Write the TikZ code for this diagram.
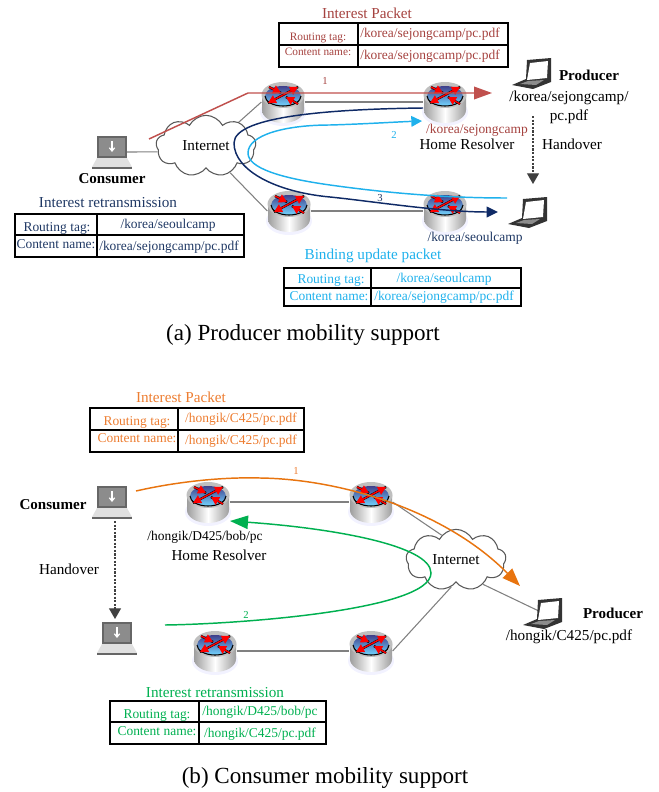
\documentclass[tikz,border=0pt]{standalone}
\usepackage{fontspec}
\setmainfont{Liberation Serif}
\usetikzlibrary{arrows.meta,shapes.symbols}
\definecolor{pktred}{HTML}{A5423F}
\definecolor{linered}{HTML}{C0504D}
\definecolor{pktnavy}{HTML}{1F3864}
\definecolor{linenavy}{HTML}{0F2A66}
\definecolor{pktcyan}{HTML}{1FB1EC}
\definecolor{pktorange}{HTML}{ED7D31}
\definecolor{lineorange}{HTML}{E8740F}
\definecolor{pktgreen}{HTML}{00B050}
\tikzset{
	txt/.style={inner sep=0pt,font=\fontsize{10.1}{12}\selectfont},
	txtbig/.style={inner sep=0pt,font=\fontsize{11.4}{13}\selectfont},
	txtsmall/.style={inner sep=0pt,font=\fontsize{8.5}{10}\selectfont},
	txtbold/.style={inner sep=0pt,font=\fontsize{11.3}{13}\selectfont\bfseries},
	num/.style={inner sep=0pt,font=\fontsize{8}{10}\selectfont},
	caption/.style={inner sep=0pt,font=\fontsize{17.3}{20}\selectfont},
	hub/.style={minimum width=32pt,minimum height=30pt,inner sep=0pt},
	lap/.style={minimum width=30pt,minimum height=23pt,inner sep=0pt},
	inet/.style={cloud,cloud puffs=9,cloud puff arc=125,aspect=1.6,draw=black!65,line width=.8pt,fill=white,minimum width=75pt,minimum height=46pt,inner sep=0pt,font=\fontsize{11.4}{13}\selectfont},
	link/.style={draw=black!50,line width=.8pt},
	tbl/.style={black,line width=.9pt},
	move/.style={black!75,line width=.8pt,dash pattern=on 1.6pt off 1.1pt,-{Triangle[length=8pt,width=9pt]}},
	pics/router/.style={code={
		\fill[blue!5] (0,10) ellipse (23 and 14);
		\shade[left color=black!38,right color=black!38,middle color=white] (-21,-7) -- (-21,8) arc (180:0:21 and 13) -- (21,-7) -- cycle;
		\fill[black!25] (0,-7) ellipse (21.5 and 13);
		\shade[top color=blue!40!black!75,bottom color=blue!30!cyan!55] (0,-6) ellipse (18 and 10);
		\draw[black,line width=.8pt] (-18,-6) arc (180:0:18 and 10);
		\foreach \xa/\ya/\xb/\yb in {0/-7/15/-15, 0/-7/-15/1, -14/-15/-2/-9, 15/2/3/-5}{
			\draw[black,line width=1.7pt] (\xa,\ya) -- (\xb,\yb);
			\draw[red,line width=1.1pt,-{Triangle[length=6pt,width=6.5pt]}] (\xa,\ya) -- (\xb,\yb);
		}
	}},
	pics/graylaptop/.style={code={
		\fill[black!60] (-15,-16) rectangle (15,6);
		\fill[black!45] (-13,-14) rectangle (13,4);
		\fill[black!12] (-15,6) -- (15,6) -- (20,15) -- (-20,15) -- cycle;
		\draw[black!60,line width=.8pt] (-20,16) -- (20,16);
		\draw[white,line width=.9pt,-{Straight Barb[length=2.5pt,width=4pt]}] (0,-11) -- (0,0);
	}},
	pics/blacklaptop/.style={code={
		\fill[black!80] (-5,-13) -- (19,-15) -- (19,9) -- (1,16) -- (-20,12) -- (-6,6) -- cycle;
		\fill[white] (-2,-10) -- (16,-12) -- (15,5) -- (-5,7) -- cycle;
		\fill[black!45] (-12,11) -- (-4,8) -- (12,7) -- (4,12) -- cycle;
	}}
}
\begin{document}
\begin{tikzpicture}[x=.75pt,y=-.75pt]
	\useasboundingbox (0,0) rectangle (658,792);
	% routers and laptops as named places
	\foreach \name/\px/\py in {ra/283/102,rb/445/102,rc/289/211,rd/445/211,re/208/502,rf/371/502,rg/215/651,rh/371/651}
		\node[hub] (\name) at (\px,\py) {};
	\node[lap] (cona) at (112,152) {};
	\node[lap] (conb) at (112,502) {};
	\node[lap] (conc) at (117,638) {};
	\node[lap] (proa) at (532,73) {};
	\node[lap] (prob) at (528,212) {};
	\node[lap] (proc) at (543,613) {};
	\node[inet] (inta) at (206,146) {Internet};
	\node[inet] (intb) at (456,560) {Internet};
	% wires
	\draw[link] (cona.center) -- (inta.187);
	\draw[link] (ra.west) -- (inta.36);
	\draw[link] (rc.west) -- (inta.-48);
	\draw[link] (ra) -- (rb);
	\draw[link] (rc) -- (rd);
	\draw[link] (re) -- (rf);
	\draw[link] (rg) -- (rh);
	\draw[link] (rf.east) -- (intb.120);
	\draw[link] (rh.east) -- (intb.-100);
	\draw[link] (proc.center) -- (intb.-42);
	\foreach \name in {ra,rb,rc,rd,re,rf,rg,rh}
		\pic at (\name) {router};
	\foreach \name in {cona,conb,conc}
		\pic at (\name) {graylaptop};
	\foreach \name in {proa,prob,proc}
		\pic at (\name) {blacklaptop};
	% packet paths
	\coordinate (reds) at (149,139);
	\coordinate (rede) at (492,93);
	\coordinate (navs) at (423,108);
	\coordinate (nave) at (498,212);
	\coordinate (cyas) at (507,198);
	\coordinate (cyae) at (422,121);
	\coordinate (orgs) at (136,491);
	\coordinate (orge) at (520,586);
	\coordinate (gres) at (165,625);
	\coordinate (gree) at (230,521);
	\draw[linered,line width=1.1pt,-{Triangle[length=13.5pt,width=9.5pt]}] (reds) -- (248,93) -- (rede);
	\draw[linenavy,line width=1.1pt,-{Triangle[length=8.5pt,width=8pt]}] (navs) .. controls (340,109) and (234,115) .. (234,143) .. controls (234,170) and (275,192) .. (330,197) .. controls (370,201) and (440,212) .. (nave);
	\draw[pktcyan,line width=1.1pt,-{Triangle[length=8pt,width=8pt]}] (cyas) .. controls (440,198) and (380,192) .. (330,185) .. controls (280,178) and (248,168) .. (248,153) .. controls (248,135) and (285,125) .. (330,125) .. controls (365,124) and (395,122) .. (cyae);
	\draw[lineorange,line width=1.1pt,-{Triangle[length=13.5pt,width=10pt]}] (orgs) .. controls (180,481) and (225,477) .. (260,478) .. controls (340,479) and (445,510) .. (orge);
	\draw[pktgreen,line width=1.1pt,-{Triangle[length=13.5pt,width=10pt]}] (gres) .. controls (240,624) and (431,610) .. (431,573) .. controls (431,545) and (330,528) .. (gree);
	\coordinate (hoas) at (533,116);
	\coordinate (hoae) at (533,184);
	\coordinate (hobs) at (115,521);
	\coordinate (hobe) at (115,619);
	\draw[move] (hoas) -- (hoae);
	\draw[move] (hobs) -- (hobe);
	% packet tables
	\foreach \xa/\ya/\xb/\yb/\xm/\ym in {279/23/508/67/358/45, 15/214/244/257/97/235, 284/268/521/306/371/288, 90/408/304/452/178/430, 110/701/326/744/199/722}{
		\draw[tbl] (\xa,\ya) rectangle (\xb,\yb);
		\draw[tbl] (\xa,\ym) -- (\xb,\ym);
		\draw[tbl] (\xm,\ya) -- (\xm,\yb);
	}
	% (a) labels
	\node[txtbig,pktred] (ta) at (367,13) {Interest Packet};
	\node[txtsmall,pktred] (tb) at (318,38) {Routing tag:};
	\node[txtsmall,pktred] (tc) at (318,52) {Content name:};
	\node[txt,pktred] (td) at (430,34) {/korea/sejongcamp/pc.pdf};
	\node[txt,pktred] (te) at (430,56) {/korea/sejongcamp/pc.pdf};
	\node[num,pktred] (tf) at (325,81) {1};
	\node[txtbold] (tg) at (112,179) {Consumer};
	\node[txtbig,pktnavy] (th) at (108,203) {Interest retransmission};
	\node[txt,pktnavy] (ti) at (57,228) {Routing tag:};
	\node[txt,pktnavy] (tj) at (56,244) {Content name:};
	\node[txt,pktnavy] (tk) at (168,225) {/korea/seoulcamp};
	\node[txt,pktnavy] (tl) at (169,247) {/korea/sejongcamp/pc.pdf};
	\node[txt,pktred] (tm) at (477,130) {/korea/sejongcamp};
	\node[txtbig] (tn) at (467,144) {Home Resolver};
	\node[num,pktcyan] (to) at (394,135) {2};
	\node[num,pktnavy] (tp) at (380,198) {3};
	\node[txtbold] (tq) at (589,75) {Producer};
	\node[txtbig] (tr) at (569,98) {/korea/sejongcamp/};
	\node[txtbig] (ts) at (569,117) {pc.pdf};
	\node[txtbig] (tt) at (572,144) {Handover};
	\node[txt,pktnavy] (tu) at (475,238) {/korea/seoulcamp};
	\node[txtbig,pktcyan] (tv) at (373,256) {Binding update packet};
	\node[txt,pktcyan] (tw) at (331,280) {Routing tag:};
	\node[txt,pktcyan] (tx) at (329,296) {Content name:};
	\node[txt,pktcyan] (ty) at (444,279) {/korea/seoulcamp};
	\node[txt,pktcyan] (tz) at (444,297) {/korea/sejongcamp/pc.pdf};
	\node[caption] (capa) at (303,335) {(a) Producer mobility support};
	% (b) labels
	\node[txtbig,pktorange] (ua) at (181,397) {Interest Packet};
	\node[txt,pktorange] (ub) at (137,422) {Routing tag:};
	\node[txt,pktorange] (uc) at (137,438) {Content name:};
	\node[txt,pktorange] (ud) at (241,419) {/hongik/C425/pc.pdf};
	\node[txt,pktorange] (ue) at (241,441) {/hongik/C425/pc.pdf};
	\node[num,pktorange] (uf) at (296,471) {1};
	\node[txtbold] (ug) at (53,505) {Consumer};
	\node[txtbig] (uh) at (69,569) {Handover};
	\node[num,pktgreen] (ui) at (246,615) {2};
	\node[txt] (uj) at (205,537) {/hongik/D425/bob/pc};
	\node[txtbig] (uk) at (219,555) {Home Resolver};
	\node[txtbold] (ul) at (613,613) {Producer};
	\node[txtbig] (um) at (569,637) {/hongik/C425/pc.pdf};
	\node[txtbig,pktgreen] (un) at (215,693) {Interest retransmission};
	\node[txt,pktgreen] (uo) at (157,715) {Routing tag:};
	\node[txt,pktgreen] (up) at (157,731) {Content name:};
	\node[txt,pktgreen] (uq) at (260,712) {/hongik/D425/bob/pc};
	\node[txt,pktgreen] (ur) at (260,734) {/hongik/C425/pc.pdf};
	\node[caption] (capb) at (325,778) {(b) Consumer mobility support};
\end{tikzpicture}
\end{document}
